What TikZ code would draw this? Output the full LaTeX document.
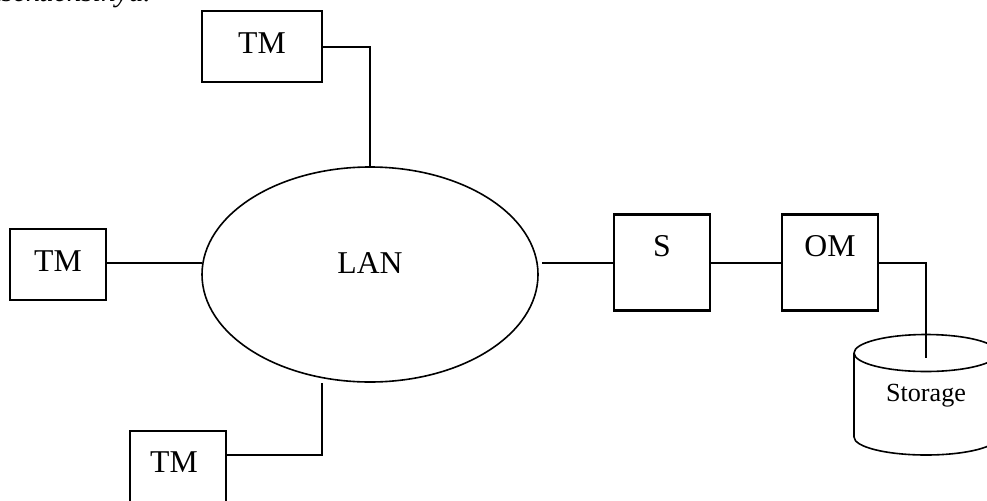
\documentclass[tikz,border=0pt]{standalone}
\usepackage{fontspec}
\setmainfont{Liberation Serif}
\begin{document}
\begin{tikzpicture}[x=0.75pt,y=-0.75pt,
  boxline/.style={line width=1.7pt,line join=miter,draw,inner sep=0pt},
  wire/.style={line width=1.6pt},
  thin wire/.style={line width=1.2pt},
  lbl/.style={inner sep=0pt,anchor=base,font=\fontsize{23.8pt}{26pt}\selectfont},
  smalllbl/.style={inner sep=0pt,anchor=base,font=\fontsize{19.6pt}{22pt}\selectfont}]
\useasboundingbox (0,0) rectangle (987,500);
\clip (0,0) rectangle (987,500);
\node[anchor=base east,inner sep=0pt,font=\fontsize{22pt}{24pt}\selectfont\itshape] (intro) at (151,1.5) {konsekuensinya.};
% boxes
\node[boxline,minimum width=90pt,minimum height=53.25pt] (tmtop) at (262,46.5) {};
\node[boxline,minimum width=72pt,minimum height=53.25pt] (tmleft) at (58,264.5) {};
\node[boxline,minimum width=72pt,minimum height=72pt] (tmbot) at (178,479) {};
\node[boxline,minimum width=72pt,minimum height=72pt] (s) at (662,262.5) {};
\node[boxline,minimum width=72pt,minimum height=72pt] (om) at (830,262.5) {};
\node[lbl] (ttop) at (262,53) {TM};
\node[lbl] (tleft) at (58,271) {TM};
\node[lbl] (tbot) at (174,472) {TM};
\node[lbl] (ts) at (662,256.5) {S};
\node[lbl] (tom) at (830,256.5) {OM};
% ellipse
\draw[thin wire] (370,274.5) ellipse [x radius=168,y radius=107.5];
\node[lbl] (lan) at (370,273) {LAN};
\coordinate (lantop) at (370,167);
\coordinate (lanleft) at (202,263);
\coordinate (lanright) at (542,263);
\coordinate (lanbot) at (322,383);
% cylinder
\draw[thin wire] (854,353) arc [start angle=180,end angle=-180,x radius=72,y radius=18.5];
\draw[thin wire] (854,353) -- (854,437) arc [start angle=180,end angle=0,x radius=72,y radius=18] -- (998,353);
\node[smalllbl] (store) at (926,401) {Storage};
\coordinate (storeend) at (926,358);
% connectors
\draw[wire] (tmtop.east |- 0,47) -- (370,47) -- (lantop);
\draw[wire] (tmleft.east |- 0,263) -- (lanleft);
\draw[wire] (tmbot.east |- 0,455) -- (322,455) -- (lanbot);
\draw[wire] (lanright) -- (s.west |- 0,263);
\draw[wire] (s.east |- 0,263) -- (om.west |- 0,263);
\draw[wire] (om.east |- 0,263) -- (926,263) -- (storeend);
\end{tikzpicture}
\end{document}
